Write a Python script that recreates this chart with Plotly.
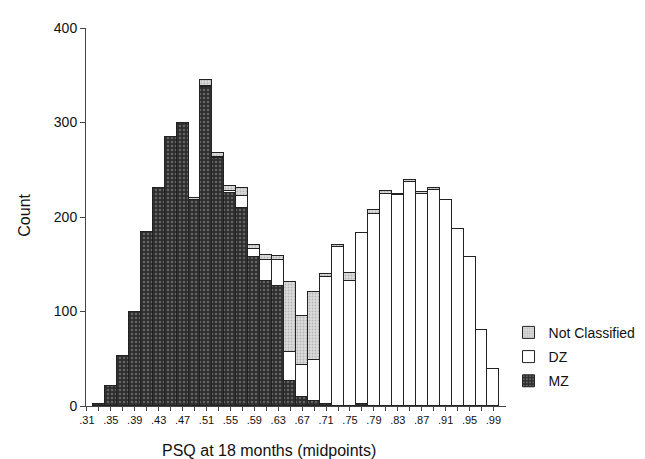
import plotly.graph_objects as go

# Bin midpoints (PSQ at 18 months)
midpoints = [0.33, 0.35, 0.37, 0.39, 0.41, 0.43, 0.45, 0.47, 0.49, 0.51, 0.53, 0.55,
             0.57, 0.59, 0.61, 0.63, 0.65, 0.67, 0.69, 0.71, 0.73, 0.75, 0.77, 0.79,
             0.81, 0.83, 0.85, 0.87, 0.89, 0.91, 0.93, 0.95, 0.97, 0.99]

mz_counts = [2, 21, 53, 100, 184, 231, 285, 300, 218, 338, 262, 225,
             210, 158, 132, 127, 26, 10, 5, 2, 0, 0, 2, 0,
             0, 0, 0, 0, 0, 0, 0, 0, 0, 0]

dz_counts = [0, 0, 0, 0, 0, 0, 0, 0, 0, 1, 1, 3,
             12, 8, 22, 28, 31, 33, 44, 134, 168, 132, 181, 203,
             224, 223, 237, 224, 229, 218, 187, 158, 80, 39]

nc_counts = [0, 0, 0, 0, 0, 0, 0, 0, 2, 6, 5, 5,
             9, 4, 6, 4, 74, 52, 72, 4, 2, 9, 0, 4,
             3, 1, 2, 2, 2, 0, 0, 0, 0, 0]

tick_values = [0.31 + 0.02 * i for i in range(35)]
tick_labels = [".31", ".35", ".39", ".43", ".47", ".51", ".55", ".59", ".63",
               ".67", ".71", ".75", ".79", ".83", ".87", ".91", ".95", ".99"]
tick_text = [tick_labels[i // 2] if i % 2 == 0 else "" for i in range(35)]

FONT = "Liberation Sans, Arial, sans-serif"
edge = dict(color="#222222", width=1)

fig = go.Figure()
fig.add_trace(go.Bar(
    x=midpoints, y=mz_counts, name="MZ", width=0.02, legendgroup="mz", legendrank=3,
    marker=dict(color="#2e2e2e", line=edge,
                pattern=dict(shape=".", fgcolor="#9a9a9a", size=4, solidity=0.3,
                             fillmode="overlay")),
))
fig.add_trace(go.Bar(
    x=midpoints, y=dz_counts, name="DZ", width=0.02, legendgroup="dz", legendrank=2,
    marker=dict(color="#ffffff", line=edge),
))
fig.add_trace(go.Bar(
    x=midpoints, y=nc_counts, name="Not Classified", width=0.02, legendgroup="nc",
    legendrank=1,
    marker=dict(color="#dcdcdc", line=edge,
                pattern=dict(shape=".", fgcolor="#8a8a8a", size=3, solidity=0.3,
                             fillmode="overlay")),
))

fig.update_layout(
    width=645, height=459,
    barmode="stack", bargap=0,
    paper_bgcolor="white", plot_bgcolor="white",
    margin=dict(l=78, r=139, t=15, b=61),
    font=dict(family=FONT, color="#111111"),
    showlegend=True,
    legend=dict(traceorder="grouped", tracegroupgap=3,
                x=1.006, xanchor="left", y=0.236, yanchor="top",
                font=dict(size=14, family=FONT), bgcolor="rgba(0,0,0,0)",
                itemwidth=30),
    xaxis=dict(range=[0.3085, 1.011], tickmode="array", tickvals=tick_values,
               ticktext=tick_text, ticks="outside", ticklen=4, tickcolor="#444",
               showline=True, linecolor="#444", linewidth=1, showgrid=False,
               zeroline=False, tickfont=dict(size=11, family=FONT)),
    yaxis=dict(range=[0, 400], tickvals=[0, 100, 200, 300, 400],
               ticks="outside", ticklen=5, tickcolor="#444",
               showline=True, linecolor="#444", linewidth=1, showgrid=False,
               zeroline=False, tickfont=dict(size=14, family=FONT)),
    annotations=[
        dict(text="PSQ at 18 months (midpoints)", xref="paper", yref="paper",
             x=(153 - 78) / 428, y=(398 - 443) / 383, xanchor="left", yanchor="middle",
             showarrow=False, font=dict(size=16, family=FONT)),
        dict(text="Count", xref="paper", yref="paper",
             x=(15 - 78) / 428, y=(398 - 205) / 383, xanchor="center", yanchor="middle",
             textangle=-90, showarrow=False, font=dict(size=16, family=FONT)),
    ],
)

fig.write_html("out.html")
